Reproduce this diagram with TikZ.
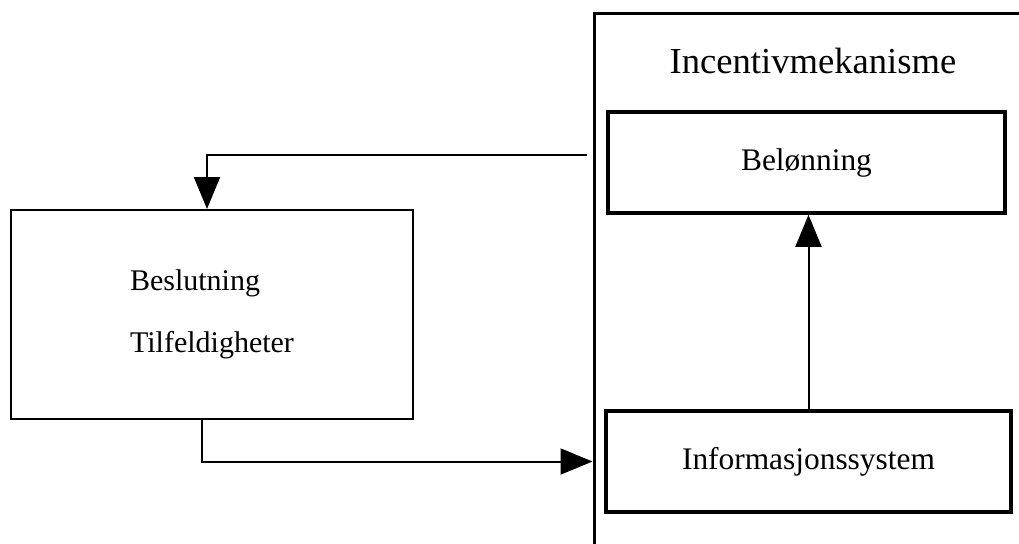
\documentclass[tikz,border=0pt]{standalone}
\usepackage{fontspec}
\setmainfont{Liberation Serif}
\usetikzlibrary{arrows.meta}

\begin{document}
\begin{tikzpicture}[x=0.5pt, y=-0.5pt,
    tynnboks/.style={draw, line width=1pt, minimum width=201pt, minimum height=104.5pt, font=\fontsize{15}{18}\selectfont},
    tykkboks/.style={draw, line width=1.8pt, minimum height=50.5pt, font=\fontsize{15.7}{18}\selectfont},
    pil/.style={line width=1pt, -{Triangle[length=16pt, width=13pt]}}]
    \useasboundingbox (0,0) rectangle (1019,543);
    \clip (0,0) rectangle (1019,543);

    % the mechanism frame runs off the page at right and bottom
    \node[draw, line width=1.5pt, minimum width=223pt, minimum height=273.5pt] (mekanisme) at (817,286.5) {};
    \node[anchor=base, font=\fontsize{18.3}{22}\selectfont] (tittel) at (813,73) {Incentivmekanisme};

    \node[tykkboks, minimum width=198.5pt] (beloenning) at (806.5,162.5) {Belønning};
    \node[tykkboks, minimum width=202.5pt] (info) at (808.5,461.5) {Informasjonssystem};

    \node[tynnboks, align=left] (beslutning) at (212,314.5) {Beslutning\\[13pt]Tilfeldigheter};

    \coordinate (tilbake) at (587,155);

    \draw[pil] (tilbake) -| ([xshift=-2.5pt]beslutning.north);
    \draw[pil] ([xshift=-5pt]beslutning.south) |- (info.west -| mekanisme.west);
    \draw[pil] (info.north) -- (info.north |- beloenning.south);

\end{tikzpicture}
\end{document}
